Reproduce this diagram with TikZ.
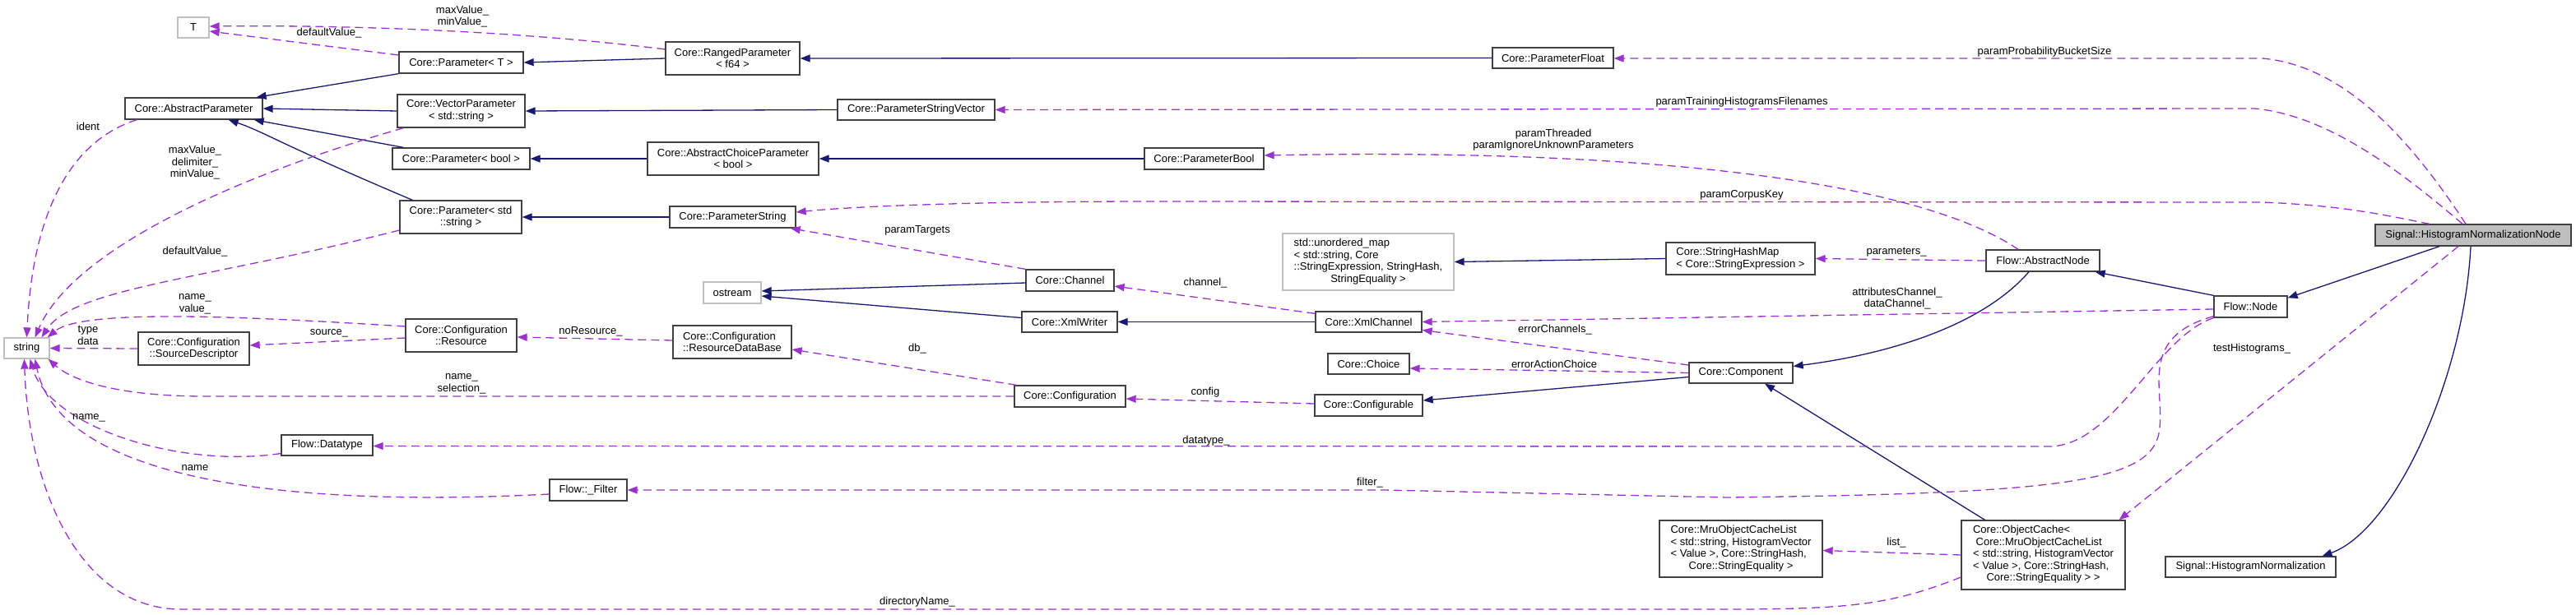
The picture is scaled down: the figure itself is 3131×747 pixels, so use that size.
\documentclass[tikz,border=0pt]{standalone}
\usepackage{fontspec}
\setmainfont{Liberation Sans}
\usetikzlibrary{arrows.meta}
\definecolor{inhc}{HTML}{191970}
\definecolor{usec}{HTML}{9A32CD}
\definecolor{grayb}{HTML}{BFBFBF}
\definecolor{bordc}{HTML}{404040}
\newcommand{\dfont}{\fontsize{13}{14.5}\selectfont}
\begin{document}
\begin{tikzpicture}[x=1pt,y=-1pt,
  box/.style={draw=bordc, line width=1.3pt, fill=white, inner sep=1pt, font=\dfont, align=center},
  tbox/.style={draw=bordc, line width=1.3pt, fill=white, inner sep=1pt, font=\dfont},
  gbox/.style={box, draw=grayb},
  lbl/.style={font=\dfont, align=center, inner sep=0pt},
  inh/.style={draw=inhc, line width=1.3pt, -{Triangle[length=12pt,width=9pt]}},
  use/.style={draw=usec, line width=1.3pt, dash pattern=on 10pt off 6pt, -{Triangle[length=12pt,width=9pt]}}]
\useasboundingbox (0,0) rectangle (3131,747);

% ---------- connectors first (nodes drawn on top) ----------
\begin{scope}[on background layer/.style={}]
\end{scope}

% nodes
\node[gbox, minimum width=38, minimum height=25] (T) at (235,33.5) {T};
\node[box, minimum width=151, minimum height=26] (ParamT) at (560.5,76) {Core::Parameter< T >};
\node[box, minimum width=167, minimum height=26] (AbsParam) at (235.5,132) {Core::AbstractParameter};
\node[box, minimum width=155, minimum height=40] (VecParam) at (560.5,135) {Core::VectorParameter\\< std::string >};
\node[box, minimum width=167, minimum height=26] (ParamBoolT) at (560.5,193) {Core::Parameter< bool >};
\node[box, minimum width=148, minimum height=40] (ParamStrT) at (560,264) {Core::Parameter< std\\::string >};
\node[gbox, minimum width=55, minimum height=25] (string) at (32.5,423.5) {string};
\node[box, minimum width=135, minimum height=40] (SrcDesc) at (235.5,424) {Core::Configuration\\::SourceDescriptor};
\node[box, minimum width=135, minimum height=40] (Resource) at (560.5,408) {Core::Configuration\\::Resource};
\node[box, minimum width=111, minimum height=25] (Datatype) at (397.5,541.5) {Flow::Datatype};
\node[box, minimum width=94, minimum height=26] (Filter) at (715,596) {Flow::\_Filter};
\node[box, minimum width=163, minimum height=40] (Ranged) at (890.5,71) {Core::RangedParameter\\< f64 >};
\node[box, minimum width=191, minimum height=25] (PSV) at (1113.5,133.5) {Core::ParameterStringVector};
\node[box, minimum width=208, minimum height=40] (ACP) at (891,193) {Core::AbstractChoiceParameter\\< bool >};
\node[box, minimum width=145, minimum height=26] (PBool) at (1463.5,193) {Core::ParameterBool};
\node[box, minimum width=153, minimum height=26] (PString) at (890.5,264) {Core::ParameterString};
\node[box, minimum width=107, minimum height=26] (Channel) at (1300.5,341) {Core::Channel};
\node[gbox, minimum width=70, minimum height=26] (ostream) at (890,356) {ostream};
\node[box, minimum width=116, minimum height=25] (XmlWriter) at (1300,391.5) {Core::XmlWriter};
\node[box, minimum width=144, minimum height=40, align=left] (RDB) at (890,416) {Core::Configuration\\::ResourceDataBase};
\node[box, minimum width=135, minimum height=26] (Config) at (1300.5,482) {Core::Configuration};
\node[box, minimum width=147, minimum height=25] (PFloat) at (1887.5,70.5) {Core::ParameterFloat};
\node[tbox, draw=grayb, minimum width=208, minimum height=69] (umap) at (1663,318.5) {\begin{tabular}{@{}l@{}}std::unordered\_map\\< std::string, Core\\::StringExpression, StringHash,\\\multicolumn{1}{@{}c@{}}{StringEquality >}\end{tabular}};
\node[box, minimum width=181, minimum height=39, align=left] (SHM) at (2115.5,314.5) {Core::StringHashMap\\< Core::StringExpression >};
\node[box, minimum width=129, minimum height=25] (XmlChannel) at (1663.5,391.5) {Core::XmlChannel};
\node[box, minimum width=99, minimum height=25] (Choice) at (1663.5,442.5) {Core::Choice};
\node[box, minimum width=131, minimum height=26] (Configurable) at (1663.5,493) {Core::Configurable};
\node[box, minimum width=126, minimum height=25] (Component) at (2116,453.5) {Core::Component};
\node[tbox, minimum width=198, minimum height=69] (Mru) at (2116,667.5) {\begin{tabular}{@{}l@{}}Core::MruObjectCacheList\\< std::string, HistogramVector\\< Value >, Core::StringHash,\\\multicolumn{1}{@{}c@{}}{Core::StringEquality >}\end{tabular}};
\node[box, minimum width=138, minimum height=26] (AbsNode) at (2483,317) {Flow::AbstractNode};
\node[box, minimum width=89, minimum height=26] (FlowNode) at (2735.5,373) {Flow::Node};
\node[tbox, minimum width=199, minimum height=84] (ObjCache) at (2483.5,675) {\begin{tabular}{@{}l@{}}Core::ObjectCache<\\\ Core::MruObjectCacheList\\< std::string, HistogramVector\\< Value >, Core::StringHash,\\\multicolumn{1}{@{}c@{}}{Core::StringEquality > >}\end{tabular}};
\node[box, minimum width=207, minimum height=25] (SigHN) at (2735.5,689.5) {Signal::HistogramNormalization};
\node[box, fill=grayb, minimum width=238, minimum height=26] (SigNode) at (3006,286) {Signal::HistogramNormalizationNode};

% ---------- inheritance ----------
\draw[inh] (ParamT.south west) -- ([xshift=-8pt]AbsParam.north east);
\draw[inh] (VecParam.west) -- (AbsParam.east);
\draw[inh] ([xshift=14pt]ParamBoolT.north west) -- ([xshift=-11pt]AbsParam.south east);
\draw[inh] ([xshift=16pt]ParamStrT.north west) .. controls (340,175) and (320,160) .. ([xshift=-42pt]AbsParam.south east);
\draw[inh] (Ranged.west) -- (ParamT.east);
\draw[inh] (PFloat.west) -- (Ranged.east);
\draw[inh] (PSV.west) -- (VecParam.east);
\draw[inh] (ACP.west) -- (ParamBoolT.east);
\draw[inh] (PBool.west) -- (ACP.east);
\draw[inh] (PString.west) -- (ParamStrT.east);
\draw[inh] ([yshift=-3pt]Channel.west) -- ([yshift=2pt]ostream.east);
\draw[inh] ([yshift=5pt]XmlWriter.west) -- ([yshift=-4pt]ostream.east);
\draw[inh] (XmlChannel.west) -- (XmlWriter.east);
\draw[inh] (SHM.west) -- (umap.east);
\draw[inh] ([yshift=-5pt]Component.west) -- ([yshift=6pt]Configurable.east);
\draw[inh] ([xshift=-17pt]AbsNode.south) .. controls (2410,395) and (2300,430) .. ([yshift=8pt]Component.east);
\draw[inh] (FlowNode.north west) -- ([xshift=-6pt]AbsNode.south east);
\draw[inh] ([xshift=-41pt]SigNode.south) -- ([yshift=-3pt]FlowNode.north east);
\draw[inh] ([xshift=-71pt]ObjCache.north) -- ([xshift=29pt]Component.south);
\draw[inh] ([xshift=-3pt]SigNode.south) .. controls (2995,460) and (2910,645) .. ([xshift=87pt]SigHN.north);

% ---------- usage ----------
\draw[use] ([yshift=9pt]ParamT.west) -- ([yshift=-4.5pt]T.east);
\draw[use] ([yshift=11pt]Ranged.west) .. controls (650,40) and (450,30) .. ([yshift=1.5pt]T.east);
\draw[use] ([xshift=15pt]AbsParam.south west) .. controls (90,170) and (40,250) .. (string.north);
\draw[use] ([xshift=8pt]VecParam.south west) .. controls (300,210) and (90,300) .. ([xshift=10pt]string.north);
\draw[use] ([yshift=-16pt]ParamStrT.west) .. controls (250,340) and (90,350) .. ([xshift=18pt]string.north);
\draw[use] ([yshift=11pt]Resource.west) .. controls (300,385) and (100,375) .. ([xshift=-3pt]string.north east);
\draw[use] (SrcDesc.west) -- (string.east);
\draw[use] ([yshift=-3pt]Resource.west) -- ([yshift=4pt]SrcDesc.east);
\draw[use] ([yshift=2pt]RDB.west) -- ([yshift=-2pt]Resource.east);
\draw[use] (Config.west) -- (250,482) .. controls (150,482) and (90,465) .. ([xshift=-2pt]string.south east);
\draw[use] ([xshift=3pt]Config.north west) -- ([yshift=-9pt]RDB.east);
\draw[use] ([yshift=-10pt]Datatype.west) .. controls (220,570) and (60,520) .. ([xshift=4pt]string.south);
\draw[use] ([yshift=-5pt]Filter.west) .. controls (300,620) and (70,570) .. ([xshift=10pt]string.south);
\draw[use] ([yshift=-27pt]ObjCache.west) .. controls (2300,735) and (2250,741) .. (2100,741) -- (220,741) .. controls (100,741) and (35,600) .. ([xshift=-3pt]string.south);
\draw[use] (Channel.north west) -- ([xshift=-7pt]PString.south east);
\draw[use] ([yshift=-3pt]XmlChannel.north west) -- ([yshift=-7pt]Channel.east);
\draw[use] ([yshift=9.5pt]Component.west) -- ([yshift=-10pt]XmlChannel.east);
\draw[use] (Component.west) -- ([yshift=-5.5pt]Choice.east);
\draw[use] ([yshift=2pt]Configurable.west) -- ([yshift=-3pt]Config.east);
\draw[use] (FlowNode.south west) .. controls (2620,410) and (2570,543) .. (2490,543) -- ([yshift=-1pt]Datatype.east);
\draw[use] ([yshift=2pt]FlowNode.south west) .. controls (2600,410) and (2630,470) .. (2625,520) .. controls (2620,585) and (2520,600) .. (2100,605) -- (1682,596) -- (Filter.east);
\draw[use] ([yshift=-3pt]FlowNode.west) -- (XmlChannel.east);
\draw[use] (AbsNode.west) -- (SHM.east);
\draw[use] ([xshift=-30pt]AbsNode.north) .. controls (2330,220) and (2000,180) .. ([yshift=4pt]PBool.east);
\draw[use] (ObjCache.west) -- ([yshift=-2pt]Mru.east);
\draw[use] ([xshift=-9pt]SigNode.north) .. controls (2930,170) and (2850,80) .. (2750,71) -- ([yshift=-0.5pt]PFloat.east);
\draw[use] ([xshift=-13pt]SigNode.north) .. controls (2920,210) and (2830,140) .. (2740,132) -- (PSV.east);
\draw[use] ([xshift=-53pt]SigNode.north) .. controls (2900,262) and (2850,250) .. (2750,246) -- (1400,245) .. controls (1200,245) and (1050,250) .. ([yshift=6pt]PString.east);
\draw[use] ([xshift=-18pt]SigNode.south) -- ([xshift=-8pt]ObjCache.north east);

% ---------- labels ----------
\node[lbl] (lb1) at (400,40) {defaultValue\_};
\node[lbl] (lb2) at (562,20) {maxValue\_\\minValue\_};
\node[lbl] (lb3) at (107,154) {ident};
\node[lbl] (lb4) at (237,198) {maxValue\_\\delimiter\_\\minValue\_};
\node[lbl] (lb5) at (237,306) {defaultValue\_};
\node[lbl] (lb6) at (237,370) {name\_\\value\_};
\node[lbl] (lb7) at (107,408) {type\\data};
\node[lbl] (lb8) at (400,405) {source\_};
\node[lbl] (lb9) at (718,403) {noResource\_};
\node[lbl] (lb10) at (561,467) {name\_\\selection\_};
\node[lbl] (lb11) at (108,508) {name\_};
\node[lbl] (lb12) at (237,569) {name};
\node[lbl] (lb13) at (1115,732) {directoryName\_};
\node[lbl] (lb14) at (1115,280) {paramTargets};
\node[lbl] (lb15) at (1115,424) {db\_};
\node[lbl] (lb16) at (1888,170) {paramThreaded\\paramIgnoreUnknownParameters};
\node[lbl] (lb17) at (2117,124) {paramTrainingHistogramsFilenames};
\node[lbl] (lb18) at (2117,237) {paramCorpusKey};
\node[lbl] (lb19) at (1465,344) {channel\_};
\node[lbl] (lb20) at (1890,401) {errorChannels\_};
\node[lbl] (lb21) at (1889,443) {errorActionChoice};
\node[lbl] (lb22) at (1465,477) {config};
\node[lbl] (lb23) at (1466,536) {datatype\_};
\node[lbl] (lb24) at (1665,587) {filter\_};
\node[lbl] (lb25) at (2485,63) {paramProbabilityBucketSize};
\node[lbl] (lb26) at (2305,307) {parameters\_};
\node[lbl] (lb27) at (2306,363) {attributesChannel\_\\dataChannel\_};
\node[lbl] (lb28) at (2305,660) {list\_};
\node[lbl] (lb29) at (2737,424) {testHistograms\_};
\end{tikzpicture}
\end{document}
